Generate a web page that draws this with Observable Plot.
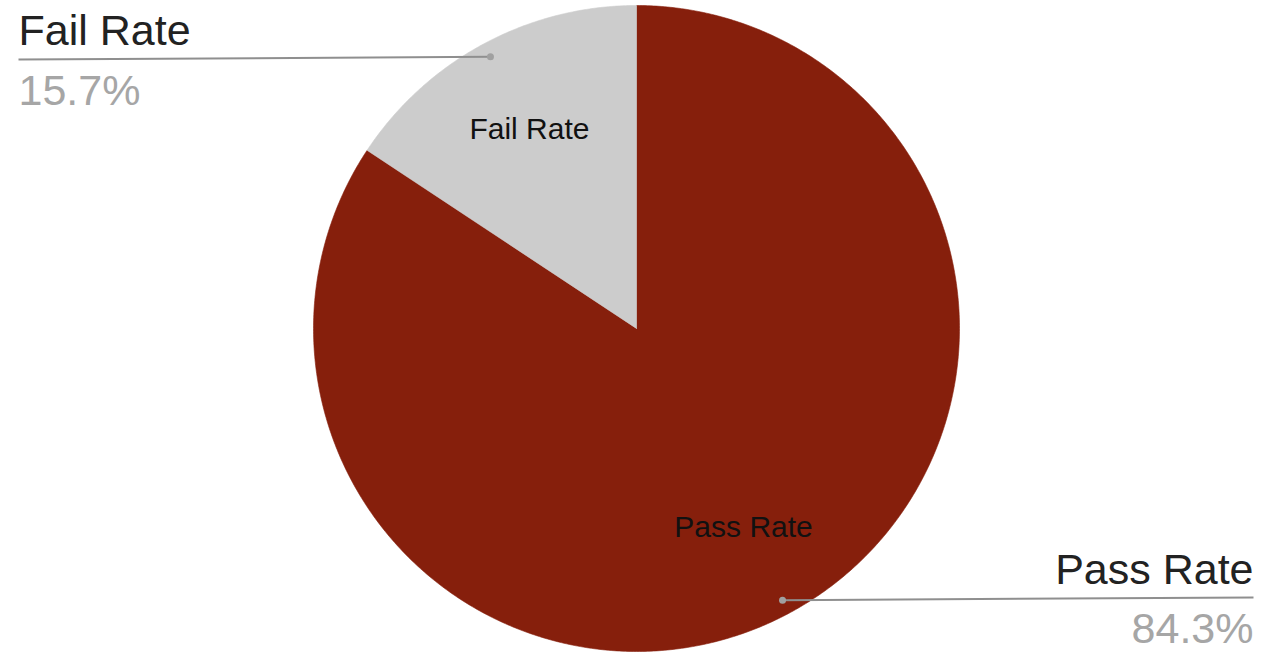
<!DOCTYPE html>
<html>
<head>
<meta charset="utf-8">
<script src="https://cdn.jsdelivr.net/npm/d3@7"></script>
<script src="https://cdn.jsdelivr.net/npm/@observablehq/plot@0.6"></script>
<style>
  html, body { margin: 0; padding: 0; background: #fff; }
  #chart svg { display: block; }
</style>
</head>
<body>
<div id="chart"></div>
<script>
// ---- data ----
const categories = ["Pass Rate", "Fail Rate"];
const values = [84.3, 15.7];
const colors = ["#861f0c", "#cccccc"];

// ---- layout ----
const W = 1264, H = 657;
const cx = 636, cy = 328, R = 323;
const FONT = "'Liberation Sans', Arial, Helvetica, sans-serif";

const total = d3.sum(values);
// clockwise from 12 o'clock
let acc = 0;
const slices = categories.map((c, i) => {
  const a0 = acc / total * 2 * Math.PI;
  acc += values[i];
  const a1 = acc / total * 2 * Math.PI;
  return {cat: c, value: values[i], a0, a1, mid: (a0 + a1) / 2};
});

// polygon points for each slice on unit circle (x = sin θ, y = cos θ)
const pts = [];
for (const s of slices) {
  pts.push({cat: s.cat, x: 0, y: 0});
  const n = Math.max(2, Math.ceil((s.a1 - s.a0) / (Math.PI / 360)));
  for (let k = 0; k <= n; k++) {
    const a = s.a0 + (s.a1 - s.a0) * k / n;
    pts.push({cat: s.cat, x: Math.sin(a), y: Math.cos(a)});
  }
  pts.push({cat: s.cat, x: 0, y: 0});
}

const inner = slices.map(s => ({cat: s.cat, x: 0.7 * Math.sin(s.mid), y: 0.7 * Math.cos(s.mid)}));
const dots = slices.map(s => ({cat: s.cat, x: 0.955 * Math.sin(s.mid), y: 0.955 * Math.cos(s.mid)}));

// leader endpoints (pixel layout -> unit coords)
const toX = px => (px - cx) / R;
const toY = py => (cy - py) / R;
const leaderEnd = {"Fail Rate": {x: toX(18), y: toY(59)}, "Pass Rate": {x: toX(1253), y: toY(597)}};
const links = dots.map(d => ({cat: d.cat, x1: d.x, y1: d.y, x2: leaderEnd[d.cat].x, y2: leaderEnd[d.cat].y}));

const pct = v => d3.format(".1f")(v) + "%";
const failV = values[categories.indexOf("Fail Rate")];
const passV = values[categories.indexOf("Pass Rate")];

const chart = Plot.plot({
  width: W,
  height: H,
  margin: 0,
  style: {background: "#fff", fontFamily: FONT},
  x: {domain: [-1, 1], range: [cx - R, cx + R], axis: null},
  y: {domain: [-1, 1], range: [cy + R, cy - R], axis: null},
  color: {domain: categories, range: colors},
  marks: [
    Plot.line(pts, {x: "x", y: "y", z: "cat", fill: "cat", stroke: "cat", strokeWidth: 0.6, curve: "linear"}),
    Plot.text(inner, {x: "x", y: "y", text: "cat", fontSize: 30, fill: "#111", lineAnchor: "middle", fontFamily: FONT}),
    Plot.link(links, {x1: "x1", y1: "y1", x2: "x2", y2: "y2", stroke: "#8f8f8f", strokeWidth: 2}),
    Plot.dot(dots, {x: "x", y: "y", r: 3.5, fill: "#a0a0a0", stroke: null}),
    // outer labels
    Plot.text(["Fail Rate"], {frameAnchor: "top-left", dx: 18, dy: 44, text: d => d, textAnchor: "start", lineAnchor: "bottom", fontSize: 43, fill: "#222", fontFamily: FONT}),
    Plot.text([pct(failV)], {frameAnchor: "top-left", dx: 18, dy: 104, text: d => d, textAnchor: "start", lineAnchor: "bottom", fontSize: 43, fill: "#a6a6a6", fontFamily: FONT}),
    Plot.text(["Pass Rate"], {frameAnchor: "bottom-right", dx: -11, dy: 583 - H, text: d => d, textAnchor: "end", lineAnchor: "bottom", fontSize: 43, fill: "#222", fontFamily: FONT}),
    Plot.text([pct(passV)], {frameAnchor: "bottom-right", dx: -11, dy: 642 - H, text: d => d, textAnchor: "end", lineAnchor: "bottom", fontSize: 43, fill: "#a6a6a6", fontFamily: FONT})
  ]
});
document.getElementById("chart").appendChild(chart);
</script>
</body>
</html>
